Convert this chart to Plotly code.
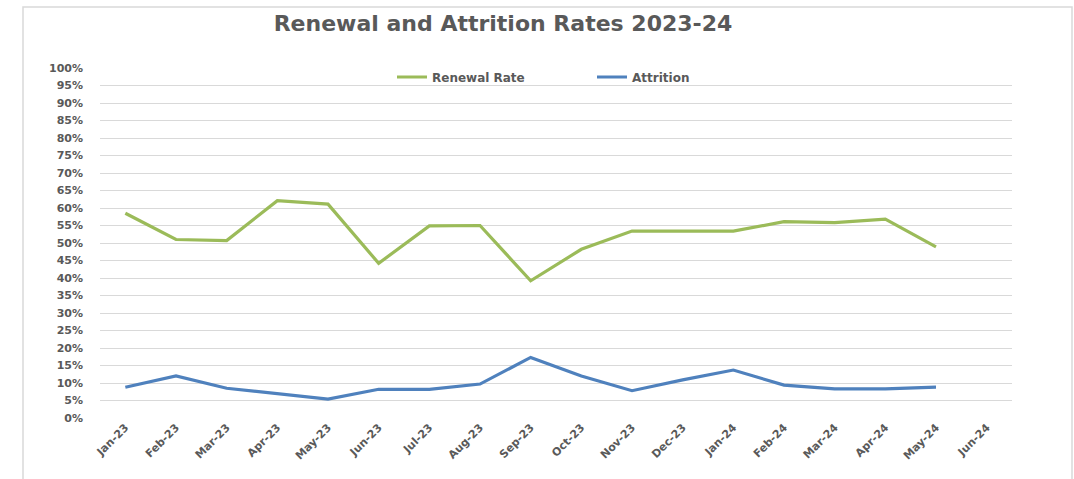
import plotly.graph_objects as go

months = ["Jan-23", "Feb-23", "Mar-23", "Apr-23", "May-23", "Jun-23", "Jul-23", "Aug-23",
          "Sep-23", "Oct-23", "Nov-23", "Dec-23", "Jan-24", "Feb-24", "Mar-24", "Apr-24",
          "May-24", "Jun-24"]
renewal = [0.585, 0.51, 0.507, 0.621, 0.611, 0.442, 0.549, 0.55, 0.392, 0.482, 0.534,
           0.534, 0.534, 0.561, 0.558, 0.568, 0.489, None]
attrition = [0.088, 0.12, 0.085, 0.07, 0.054, 0.082, 0.082, 0.097, 0.173, 0.12, 0.078,
             0.109, 0.137, 0.094, 0.083, 0.083, 0.088, None]
ytick_vals = [i / 20 for i in range(21)]
ytick_text = [f"<b>{i * 5}%</b>" for i in range(21)]
xtick_text = [f"<b>{m}</b>" for m in months]

GREEN = "#9BBB59"
BLUE = "#4F81BD"
GREY = "#595959"

fig = go.Figure()
fig.add_trace(go.Scatter(x=months, y=renewal, mode="lines", name="<b>Renewal Rate</b>",
                         line=dict(color=GREEN, width=3.2)))
fig.add_trace(go.Scatter(x=months, y=attrition, mode="lines", name="<b>Attrition</b>",
                         line=dict(color=BLUE, width=3.2)))

W, H = 1074, 479
L, R, T, B = 100, 62, 68, 61
pw, ph = W - L - R, H - T - B

def px_x(x):
    return (x - L) / pw

def px_y(y):
    return (H - B - y) / ph

fig.update_layout(
    width=W, height=H,
    margin=dict(l=L, r=R, t=T, b=B, autoexpand=False),
    paper_bgcolor="white", plot_bgcolor="white",
    font=dict(family="DejaVu Sans", color=GREY),
    title=dict(text="<b>Renewal and Attrition Rates 2023-24</b>",
               x=px_x(503), xref="paper", xanchor="center",
               y=1 - 23 / H, yanchor="middle",
               font=dict(size=22, color=GREY, family="DejaVu Sans")),
    showlegend=True,
    legend=dict(orientation="h", x=px_x(392), xanchor="left", y=px_y(77), yanchor="middle",
                font=dict(size=12, color=GREY, family="DejaVu Sans"),
                bgcolor="rgba(0,0,0,0)", itemwidth=30, tracegroupgap=0,
                entrywidth=155, entrywidthmode="pixels"),
    shapes=[dict(type="rect", xref="paper", yref="paper",
                 x0=px_x(23), x1=px_x(1072), y0=px_y(482), y1=px_y(7),
                 line=dict(color="#D9D9D9", width=1.5), fillcolor="rgba(0,0,0,0)", layer="below")],
)
fig.update_xaxes(type="category", range=[-0.5, 17.5], showgrid=False, showline=False,
                 zeroline=False, tickangle=-45, ticks="",
                 tickvals=months, ticktext=xtick_text,
                 tickfont=dict(size=11, color=GREY, family="DejaVu Sans"))
fig.update_yaxes(range=[0, 1], tickvals=ytick_vals, ticktext=ytick_text, showgrid=True,
                 gridcolor="#D9D9D9", gridwidth=1.3, zeroline=False, showline=False,
                 ticks="", ticklabelstandoff=16,
                 tickfont=dict(size=11, color=GREY, family="DejaVu Sans"))

fig.write_html("out.html")
